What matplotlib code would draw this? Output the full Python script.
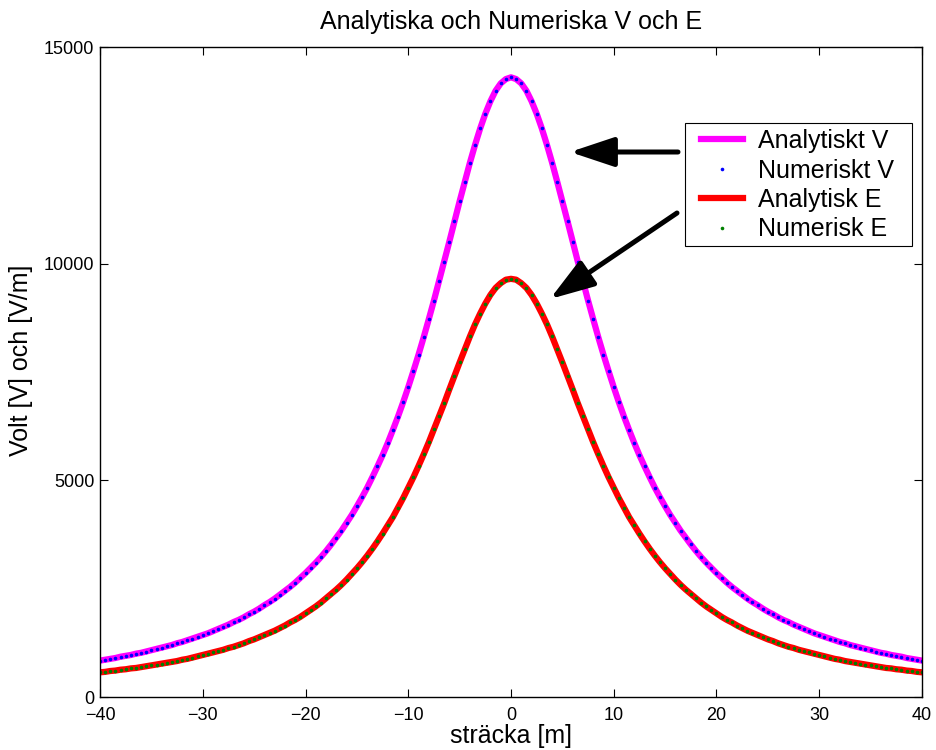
import matplotlib
matplotlib.use("Agg")
import matplotlib.pyplot as plt
from matplotlib.patches import Rectangle

plt.rcParams['font.family'] = ['Liberation Sans', 'DejaVu Sans']

# sample positions [m], every 0.5 m from -40 to 40
x_m = [i / 2 for i in range(-80, 81)]

# Analytic / numeric potential V [V]
v_vals = [840, 860, 880, 900, 930, 950, 970, 1000, 1020, 1050,
          1080, 1110, 1140, 1170, 1200, 1240, 1270, 1310, 1350, 1390,
          1430, 1470, 1520, 1570, 1620, 1670, 1730, 1780, 1840, 1910,
          1970, 2040, 2120, 2190, 2270, 2360, 2450, 2540, 2640, 2750,
          2860, 2980, 3100, 3230, 3370, 3520, 3680, 3840, 4020, 4200,
          4400, 4610, 4830, 5070, 5320, 5580, 5860, 6160, 6470, 6800,
          7150, 7520, 7900, 8300, 8720, 9150, 9600, 10050, 10510, 10980,
          11440, 11890, 12330, 12740, 13120, 13460, 13750, 13990, 14160, 14260,
          14300,
          14260, 14160, 13990, 13750, 13460, 13120, 12740, 12330, 11890, 11440,
          10980, 10510, 10050, 9600, 9150, 8720, 8300, 7900, 7520, 7150,
          6800, 6470, 6160, 5860, 5580, 5320, 5070, 4830, 4610, 4400,
          4200, 4020, 3840, 3680, 3520, 3370, 3230, 3100, 2980, 2860,
          2750, 2640, 2540, 2450, 2360, 2270, 2190, 2120, 2040, 1970,
          1910, 1840, 1780, 1730, 1670, 1620, 1570, 1520, 1470, 1430,
          1390, 1350, 1310, 1270, 1240, 1200, 1170, 1140, 1110, 1080,
          1050, 1020, 1000, 970, 950, 930, 900, 880, 860, 840]

# Analytic / numeric field E [V/m]
e_vals = [570, 580, 600, 610, 630, 640, 660, 670, 690, 710,
          730, 750, 770, 790, 810, 830, 860, 880, 910, 940,
          970, 1000, 1030, 1060, 1090, 1130, 1160, 1200, 1240, 1290,
          1330, 1380, 1430, 1480, 1530, 1590, 1650, 1720, 1780, 1850,
          1930, 2010, 2090, 2180, 2280, 2380, 2480, 2590, 2710, 2840,
          2970, 3110, 3260, 3420, 3590, 3770, 3960, 4150, 4370, 4590,
          4830, 5070, 5330, 5600, 5880, 6180, 6480, 6780, 7100, 7410,
          7720, 8020, 8320, 8600, 8850, 9080, 9280, 9440, 9550, 9630,
          9650,
          9630, 9550, 9440, 9280, 9080, 8850, 8600, 8320, 8020, 7720,
          7410, 7100, 6780, 6480, 6180, 5880, 5600, 5330, 5070, 4830,
          4590, 4370, 4150, 3960, 3770, 3590, 3420, 3260, 3110, 2970,
          2840, 2710, 2590, 2480, 2380, 2280, 2180, 2090, 2010, 1930,
          1850, 1780, 1720, 1650, 1590, 1530, 1480, 1430, 1380, 1330,
          1290, 1240, 1200, 1160, 1130, 1090, 1060, 1030, 1000, 970,
          940, 910, 880, 860, 830, 810, 790, 770, 750, 730,
          710, 690, 670, 660, 640, 630, 610, 600, 580, 570]

x_ticks = [-40, -30, -20, -10, 0, 10, 20, 30, 40]
y_ticks = [0, 5000, 10000, 15000]
series_labels = ["Analytiskt V", "Numeriskt V", "Analytisk E", "Numerisk E"]

assert len(x_m) == len(v_vals) == len(e_vals)

W, H = 937, 750
fig = plt.figure(figsize=(W / 100, H / 100), dpi=100)
ax = fig.add_axes([100/W, 1-697/H, 822/W, 650/H])

ax.plot(x_m, v_vals, color='#ff00ff', lw=4.5, label=series_labels[0])
ax.plot(x_m, v_vals, ls='none', marker='o', ms=2.6, mew=0, color='#0000ff', label=series_labels[1])
ax.plot(x_m, e_vals, color='#ff0000', lw=4.5, label=series_labels[2])
ax.plot(x_m, e_vals, ls='none', marker='o', ms=2.6, mew=0, color='#008000', label=series_labels[3])

ax.set_xlim(-40, 40)
ax.set_ylim(0, 15000)
ax.set_xticks(x_ticks)
ax.set_yticks(y_ticks)
ax.tick_params(direction='in', top=True, right=True, length=6, width=0.8,
               labelsize=13, pad=4)
ax.tick_params(axis='x', pad=7)
for s in ax.spines.values():
    s.set_linewidth(1.0)

ax.set_title("Analytiska och Numeriska V och E", fontsize=18, pad=13)
ax.set_xlabel("sträcka [m]", fontsize=18, labelpad=0)
ax.set_ylabel("Volt [V] och [V/m]", fontsize=18)
ax.yaxis.set_label_coords(-0.082, 0.518)

# legend box drawn separately (MATLAB-style wide side padding)
legend_box = Rectangle((685/W, 1-246/H), 227/W, 123/H, transform=fig.transFigure,
                       facecolor='white', edgecolor='black', lw=0.8,
                       clip_on=False, zorder=4)
ax.add_patch(legend_box)
leg = ax.legend(loc='upper left', bbox_to_anchor=(701/W, 1-129/H),
                bbox_transform=fig.transFigure,
                fontsize=18, frameon=False,
                handlelength=1.68, handletextpad=0.6, borderpad=0,
                labelspacing=0.22, markerscale=1.0, borderaxespad=0)
leg.set_zorder(5)

arrow_props = dict(arrowstyle='-|>,head_length=1.35,head_width=0.45',
                   mutation_scale=20, lw=3.6, color='black', shrinkA=0, shrinkB=0)
ax.annotate('', xy=(570/W, 1-152/H), xytext=(678/W, 1-152/H),
            xycoords='figure fraction', textcoords='figure fraction',
            arrowprops=arrow_props)
ax.annotate('', xy=(550/W, 1-299/H), xytext=(677/W, 1-213/H),
            xycoords='figure fraction', textcoords='figure fraction',
            arrowprops=arrow_props)

fig.savefig('out.png', dpi=100)
